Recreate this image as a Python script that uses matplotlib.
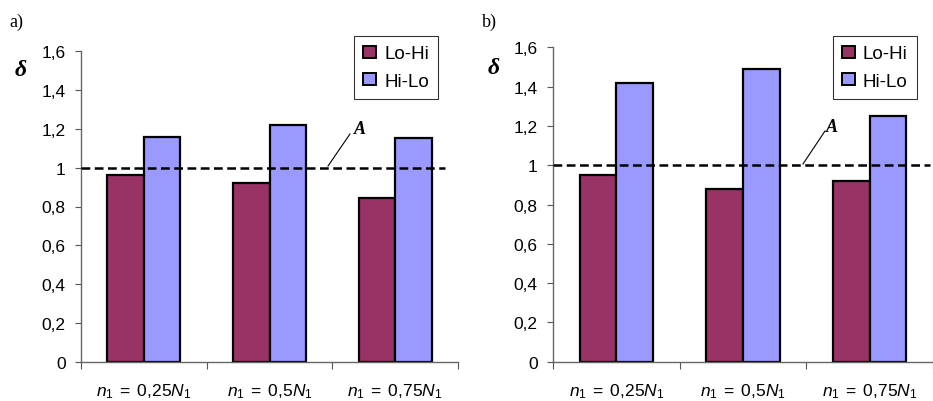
import matplotlib.pyplot as plt
import matplotlib.transforms as mtransforms
import numpy as np
from matplotlib.patches import Patch

plt.rcParams['font.family'] = ['Liberation Sans', 'DejaVu Sans']
plt.rcParams['mathtext.fontset'] = 'custom'
plt.rcParams['mathtext.rm'] = 'Liberation Sans'
plt.rcParams['mathtext.it'] = 'Liberation Sans:italic'

# data
categories = [r'$n_{\mathit{1}}\;=\;0{,}25N_{\mathit{1}}$',
              r'$n_{\mathit{1}}\;=\;0{,}5N_{\mathit{1}}$',
              r'$n_{\mathit{1}}\;=\;0{,}75N_{\mathit{1}}$']
series_names = ['Lo-Hi', 'Hi-Lo']
lohi_a = [0.96, 0.92, 0.845]
hilo_a = [1.16, 1.22, 1.15]
lohi_b = [0.95, 0.88, 0.92]
hilo_b = [1.42, 1.49, 1.25]
yticks = [0, 0.2, 0.4, 0.6, 0.8, 1.0, 1.2, 1.4, 1.6]
ytick_labels = ['0', '0,2', '0,4', '0,6', '0,8', '1', '1,2', '1,4', '1,6']
ref_level = 1.0

colors = ['#993366', '#9999FF']
W, H = 933, 402

fig = plt.figure(figsize=(9.33, 4.02), dpi=100)


def panel(rect, lohi, hilo, letter, letter_xy, delta_xy, leg_rect, a_text, a_line, dash_end):
    ax = fig.add_axes(rect)
    x = np.arange(len(categories)) + 0.5
    bw = 0.29
    ax.bar(x - bw / 2, lohi, bw, color=colors[0], edgecolor='black', linewidth=1.6, zorder=2)
    ax.bar(x + bw / 2, hilo, bw, color=colors[1], edgecolor='black', linewidth=1.6, zorder=2)
    ax.plot([0, dash_end], [ref_level, ref_level], color='black', lw=1.8,
            linestyle=(0, (3.5, 1.8)), zorder=3, clip_on=False)
    ax.set_xlim(0, 3)
    ax.set_ylim(0, 1.6)
    ax.set_yticks(yticks)
    ax.set_yticklabels(ytick_labels, fontsize=12.5)
    ax.set_xticks([0, 1, 2, 3])
    ax.set_xticklabels([])
    ax.set_xticks(x, minor=True)
    ax.set_xticklabels(categories, minor=True, fontsize=12.5)
    shift = mtransforms.ScaledTranslation(9 / 100, 0, fig.dpi_scale_trans)
    for lbl in ax.get_xticklabels(minor=True):
        lbl.set_transform(lbl.get_transform() + shift)
    ax.tick_params(axis='x', which='minor', length=0, pad=14)
    ax.tick_params(axis='x', which='major', length=5, color='#555555', direction='out')
    ax.tick_params(axis='y', length=4, color='#555555', pad=7)
    for s in ['top', 'right']:
        ax.spines[s].set_visible(False)
    for s in ['left', 'bottom']:
        ax.spines[s].set_color('#666666')
        ax.spines[s].set_linewidth(1.0)

    fig.text(letter_xy[0] / W, 1 - letter_xy[1] / H, letter, fontsize=13,
             family='Liberation Serif', va='center', ha='left')
    fig.text(delta_xy[0] / W, 1 - delta_xy[1] / H, 'δ', fontsize=17,
             family='Liberation Serif', style='italic', weight='bold',
             va='center', ha='center')
    fig.text(a_text[0] / W, 1 - a_text[1] / H, 'A', fontsize=13, family='Liberation Serif',
             style='italic', weight='bold', va='center', ha='left')
    fig.add_artist(plt.Line2D([a_line[0] / W, a_line[2] / W],
                              [1 - a_line[1] / H, 1 - a_line[3] / H],
                              color='black', lw=0.8))

    handles = [Patch(facecolor=c, edgecolor='black', linewidth=1.4) for c in colors]
    leg = fig.legend(handles, series_names, loc='upper left',
                     bbox_to_anchor=(leg_rect[0] / W, 1 - leg_rect[1] / H),
                     fontsize=13.5, frameon=True, fancybox=False, handlelength=0.65,
                     handleheight=0.65, handletextpad=0.45, borderpad=0.5, labelspacing=0.55,
                     borderaxespad=0)
    leg.get_frame().set_edgecolor('black')
    leg.get_frame().set_linewidth(0.8)
    return ax


panel([81 / W, 1 - 363 / H, 377 / W, 311 / H], lohi_a, hilo_a, 'a)', (9, 22), (21, 71),
      (354, 37), (354, 130), (328, 167, 350, 135), 2.9)
panel([553 / W, 1 - 362.7 / H, 380 / W, 314.4 / H], lohi_b, hilo_b, 'b)', (482, 22), (494, 68),
      (833, 37), (826, 127), (803, 165, 825, 132), 2.98)

plt.savefig('out.png', dpi=100)
